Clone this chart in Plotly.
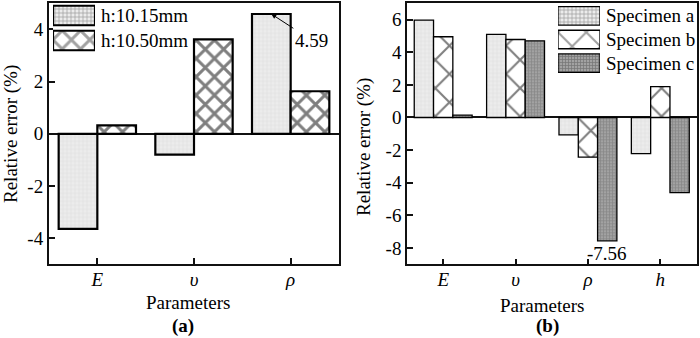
import plotly.graph_objects as go

# ---- data -------------------------------------------------------------
params_a = ["E", "υ", "ρ"]
names_a = ["h:10.15mm", "h:10.50mm"]
h1015 = [-3.64, -0.80, 4.59]
h1050 = [0.32, 3.62, 1.63]

params_b = ["E", "υ", "ρ", "h"]
names_b = ["Specimen a", "Specimen b", "Specimen c"]
spec_a = [5.97, 5.10, -1.07, -2.22]
spec_b = [4.95, 4.78, -2.43, 1.89]
spec_c = [0.14, 4.70, -7.56, -4.60]

yticks_a = [-4, -2, 0, 2, 4]
yticks_b = [-8, -6, -4, -2, 0, 2, 4, 6]

# ---- styling ----------------------------------------------------------
W, H = 700, 338
FONT = "Liberation Serif"
FS = 19


def fx(p):
    return p / W


def fy(p):
    return 1 - p / H


light = dict(shape="+", bgcolor="#ececec", fgcolor="#d4d4d4", size=4, solidity=0.3)
cross_l = dict(shape="x", bgcolor="white", fgcolor="black", size=13, solidity=0.4)
cross_r = dict(shape="x", bgcolor="white", fgcolor="black", size=20, solidity=0.2)
dark = dict(shape="+", bgcolor="#a2a2a2", fgcolor="#666666", size=3, solidity=0.4)

fig = go.Figure()


def bar(x, y, name, pat, lw, xa, ya):
    return go.Bar(
        x=x, y=y, name=name, xaxis=xa, yaxis=ya, showlegend=False,
        marker=dict(color=pat["bgcolor"], line=dict(color="black", width=lw), pattern=pat),
        hoverinfo="skip",
    )


# panel (a)
fig.add_trace(bar(params_a, h1015, names_a[0], light, 2.2, "x", "y"))
fig.add_trace(bar(params_a, h1050, names_a[1], cross_l, 2.2, "x", "y"))
# panel (b)
fig.add_trace(bar(params_b, spec_a, names_b[0], light, 1.3, "x2", "y2"))
fig.add_trace(bar(params_b, spec_b, names_b[1], cross_r, 1.3, "x2", "y2"))
fig.add_trace(bar(params_b, spec_c, names_b[2], dark, 1.3, "x2", "y2"))


# key swatches, drawn as full-width horizontal bars in small inset axes
def key(names, pats, lw, xa, ya):
    return go.Bar(
        x=[1] * len(names), y=names, orientation="h", width=0.78,
        xaxis=xa, yaxis=ya, showlegend=False, hoverinfo="skip",
        marker=dict(
            color=[p["bgcolor"] for p in pats],
            line=dict(color="black", width=lw),
            pattern=dict(
                shape=[p["shape"] for p in pats],
                bgcolor=[p["bgcolor"] for p in pats],
                fgcolor=[p["fgcolor"] for p in pats],
                size=[p["size"] for p in pats],
                solidity=[p["solidity"] for p in pats],
            ),
        ),
    )


fig.add_trace(key(names_a, [light, cross_l], 2.2, "x3", "y3"))
fig.add_trace(key(names_b, [light, cross_r, dark], 1.3, "x4", "y4"))

ydom = [fy(264.3), fy(3.3)]
tickfont = dict(family=FONT, size=FS, color="black")


def num_labels(vals):
    # plain hyphen for negatives
    return [str(v) for v in vals]


common_x = dict(
    type="category", ticks="inside", ticklen=6, tickwidth=1.5, tickcolor="#111",
    showline=True, mirror=True, linecolor="#111", showgrid=False, zeroline=False,
    tickfont=tickfont, ticklabelstandoff=-3,
)
common_y = dict(
    ticks="inside", ticklen=6, tickwidth=1.5, tickcolor="#111",
    showline=True, mirror=True, linecolor="#111", showgrid=False,
    zeroline=True, zerolinecolor="#111", zerolinewidth=1.5, tickfont=tickfont,
)

key_x = dict(range=[0, 1], visible=False, fixedrange=True)
key_y = dict(
    type="category", side="right", showline=False, showgrid=False, zeroline=False,
    ticks="", tickfont=tickfont, ticklabelstandoff=5, fixedrange=True,
)

fig.update_layout(
    width=W, height=H,
    margin=dict(l=0, r=0, t=0, b=0),
    paper_bgcolor="white", plot_bgcolor="white",
    barmode="group", bargap=0.2, bargroupgap=0,
    font=dict(family=FONT, size=FS, color="black"),
    xaxis=dict(common_x, domain=[fx(49), fx(339)], anchor="y", range=[-0.5, 2.5],
               tickvals=params_a, ticktext=[f"<i>{p}</i>" for p in params_a], linewidth=2),
    yaxis=dict(common_y, domain=ydom, anchor="x", range=[-5, 5], tickvals=yticks_a,
               ticktext=num_labels(yticks_a), linewidth=2),
    xaxis2=dict(common_x, domain=[fx(407), fx(696.5)], anchor="y2", range=[-0.5, 3.5],
                tickvals=params_b, ticktext=[f"<i>{p}</i>" for p in params_b], linewidth=1.5),
    yaxis2=dict(common_y, domain=ydom, anchor="x2", range=[-9, 7], tickvals=yticks_b,
                ticktext=num_labels(yticks_b), linewidth=1.5),
    xaxis3=dict(key_x, domain=[fx(53), fx(95)], anchor="y3"),
    yaxis3=dict(key_y, domain=[fy(53), fy(3)], anchor="x3", range=[1.5, -0.5]),
    xaxis4=dict(key_x, domain=[fx(558), fx(600)], anchor="y4"),
    yaxis4=dict(key_y, domain=[fy(75), fy(4)], anchor="x4", range=[2.5, -0.5]),
)

ann = [
    # axis titles
    dict(text="Relative error (%)", x=fx(11), y=fy(134), textangle=-90),
    dict(text="Relative error (%)", x=fx(364), y=fy(147), textangle=-90),
    dict(text="Parameters", x=fx(188), y=fy(302)),
    dict(text="Parameters", x=fx(542), y=fy(305)),
    dict(text="<b>(a)</b>", x=fx(183), y=fy(326)),
    dict(text="<b>(b)</b>", x=fx(547), y=fy(326)),
]
for a in ann:
    a.update(xref="paper", yref="paper", showarrow=False, xanchor="center", yanchor="middle",
             font=dict(family=FONT, size=FS, color="black"))
    fig.add_annotation(**a)

# value callouts
fig.add_annotation(
    x=2 - 0.2, y=h1015[2], xref="x", yref="y", text=f"{h1015[2]:.2f}",
    showarrow=True, arrowhead=2, arrowsize=1, arrowwidth=1, arrowcolor="black",
    ax=40, ay=26, font=dict(family=FONT, size=FS, color="black"),
)
fig.add_annotation(
    x=2 + 0.8 / 3, y=spec_c[2], xref="x2", yref="y2", text=f"{spec_c[2]:.2f}",
    showarrow=False, yanchor="top", yshift=0, font=dict(family=FONT, size=FS, color="black"),
)

fig.write_html("out.html")
